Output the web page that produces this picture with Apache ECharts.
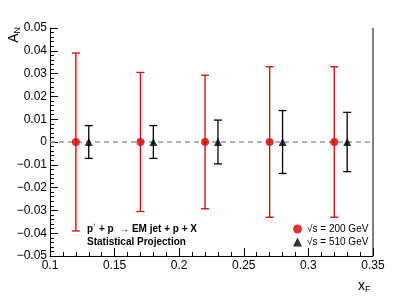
<!DOCTYPE html>
<html><head><meta charset="utf-8">
<script src="https://cdn.jsdelivr.net/npm/echarts@6/dist/echarts.min.js"></script>
<style>html,body{margin:0;padding:0;background:#fff}#c{width:415px;height:301px}</style>
</head><body><div id="c"></div>
<script>
const xF200 = [0.12, 0.17, 0.22, 0.27, 0.32];
const AN200 = [0, 0, 0, 0, 0];
const err200 = [0.039, 0.0305, 0.0293, 0.033, 0.033];
const xF510 = [0.13, 0.18, 0.23, 0.28, 0.33];
const AN510 = [0, 0, 0, 0, 0];
const err510 = [0.0072, 0.0072, 0.0096, 0.0138, 0.013];
const xTicks = [0.1, 0.15, 0.2, 0.25, 0.3, 0.35];
const yTicks = [-0.05, -0.04, -0.03, -0.02, -0.01, 0, 0.01, 0.02, 0.03, 0.04, 0.05];
const names = ['\u221As = 200 GeV', '\u221As = 510 GeV'];
const RED = '#dd0000', BLACK = '#000000';
const FONT = 'Liberation Sans, Arial, sans-serif';

function errData(x, y, e) { return x.map((v, i) => [v, y[i] - e[i], y[i] + e[i]]); }
function errRender(color) {
  return function (params, api) {
    const x = api.value(0);
    const lo = api.coord([x, api.value(1)]);
    const hi = api.coord([x, api.value(2)]);
    const w = 4;
    const st = { stroke: color, lineWidth: 1.3 };
    return { type: 'group', children: [
      { type: 'line', shape: { x1: lo[0], y1: lo[1], x2: hi[0], y2: hi[1] }, style: st },
      { type: 'line', shape: { x1: lo[0] - w, y1: lo[1], x2: lo[0] + w, y2: lo[1] }, style: st },
      { type: 'line', shape: { x1: hi[0] - w, y1: hi[1], x2: hi[0] + w, y2: hi[1] }, style: st }
    ]};
  };
}
function fmtY(v) {
  const r = Math.round(v * 100) / 100;
  if (r === 0) return '0';
  const s = Math.abs(r).toFixed(2);
  return (r < 0 ? '\u2212' : '') + s;
}
function fmtX(v) {
  const r = Math.round(v * 100) / 100;
  return String(r);
}
const chart = echarts.init(document.getElementById('c'), null, { renderer: 'canvas' });
chart.setOption({
  animation: false,
  grid: { left: 50, right: 42, top: 28, bottom: 45, show: false },
  xAxis: {
    type: 'value', min: xTicks[0], max: xTicks[xTicks.length - 1], interval: 0.05,
    axisLine: { onZero: false, lineStyle: { color: '#000', width: 1 } },
    axisTick: { inside: true, length: 8, lineStyle: { color: '#000' } },
    minorTick: { show: true, splitNumber: 5, length: 4, lineStyle: { color: '#000' } },
    splitLine: { show: false },
    axisLabel: { color: '#000', fontSize: 12, fontFamily: FONT, margin: 4, formatter: fmtX }
  },
  yAxis: {
    type: 'value', min: yTicks[0], max: yTicks[yTicks.length - 1], interval: 0.01,
    axisLine: { show: true, onZero: false, lineStyle: { color: '#000', width: 1 } },
    axisTick: { show: true, inside: true, length: 8, lineStyle: { color: '#000' } },
    minorTick: { show: true, splitNumber: 5, length: 4, lineStyle: { color: '#000' } },
    splitLine: { show: false },
    axisLabel: { color: '#000', fontSize: 12, fontFamily: FONT, margin: 3, formatter: fmtY }
  },
  legend: {
    orient: 'vertical', left: 293, top: 224, itemGap: 3, itemWidth: 9, itemHeight: 9,
    data: [{ name: names[0], icon: 'circle' }, { name: names[1], icon: 'triangle' }],
    textStyle: { fontSize: 10, fontFamily: FONT, color: '#000' }, padding: 0
  },
  series: [
    { type: 'line', data: [[xTicks[0], 0], [xTicks[xTicks.length - 1], 0]], symbol: 'none', silent: true,
      lineStyle: { color: '#999', width: 1.3, type: [5, 4] }, z: 1 },
    { type: 'custom', renderItem: errRender(RED), data: errData(xF200, AN200, err200), z: 2 },
    { type: 'custom', renderItem: errRender(BLACK), data: errData(xF510, AN510, err510), z: 2 },
    { name: names[0], type: 'scatter', symbol: 'circle', symbolSize: 8, itemStyle: { color: RED },
      data: xF200.map((x, i) => [x, AN200[i]]), z: 3 },
    { name: names[1], type: 'scatter', symbol: 'triangle', symbolSize: 8, itemStyle: { color: BLACK },
      data: xF510.map((x, i) => [x, AN510[i]]), z: 3 }
  ],
  graphic: [
    { type: 'line', shape: { x1: 373, y1: 28, x2: 373, y2: 256 }, style: { stroke: '#000', lineWidth: 1 } },
    { type: 'text', x: 14, y: 27, rotation: Math.PI / 2, style: {
        text: '{a|A}{s|N}', align: 'right', verticalAlign: 'middle',
        rich: { a: { fontSize: 14, fontFamily: FONT, fill: '#000' }, s: { fontSize: 9, fontFamily: FONT, fill: '#000', padding: [8, 0, 0, 0] } } } },
    { type: 'text', x: 358, y: 286, style: {
        text: '{a|x}{s|F}', align: 'left', verticalAlign: 'middle',
        rich: { a: { fontSize: 14, fontFamily: FONT, fill: '#000' }, s: { fontSize: 9, fontFamily: FONT, fill: '#000', padding: [8, 0, 0, 0] } } } },
    { type: 'text', x: 87, y: 229, style: {
        text: '{b|p}{u|\u2191}{b| + p  \u2192 EM jet + p + X}', verticalAlign: 'middle',
        rich: { b: { fontSize: 10, fontWeight: 'bold', fontFamily: FONT, fill: '#000' }, u: { fontSize: 6, fontFamily: FONT, fill: '#000', padding: [0, 0, 8, 0] } } } },
    { type: 'text', x: 87, y: 242, style: {
        text: 'Statistical Projection', verticalAlign: 'middle',
        font: 'bold 10px ' + FONT, fill: '#000' } }
  ]
});
</script></body></html>
